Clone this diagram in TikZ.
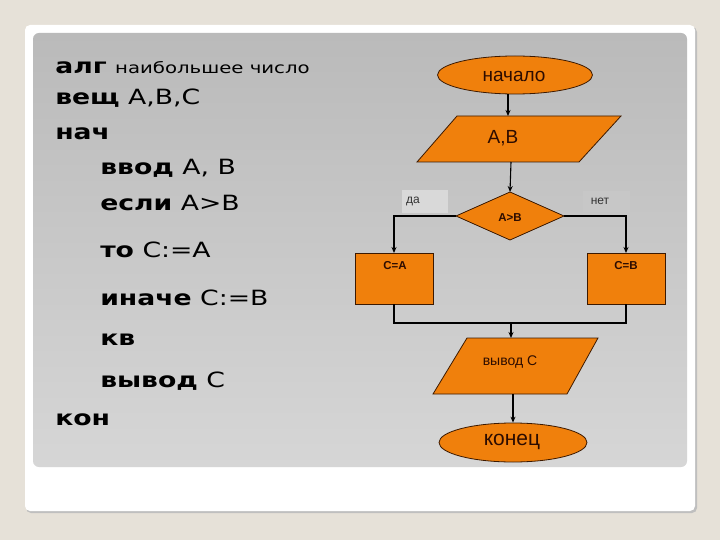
\documentclass[tikz,border=0pt]{standalone}
\usepackage{fontspec}
\setmainfont{DejaVu Sans}
\newfontfamily\arialf{Liberation Sans}
\usetikzlibrary{arrows.meta,calc,shapes.geometric}
\definecolor{bgbeige}{RGB}{230,225,216}
\definecolor{orangef}{RGB}{240,128,12}
\definecolor{edgec}{RGB}{60,25,0}
\definecolor{txtc}{RGB}{45,12,0}
\definecolor{paneltop}{RGB}{186,186,186}
\definecolor{panelbot}{RGB}{214,214,214}
\tikzset{
  x=1pt, y=-1pt,
  shapebox/.style={inner sep=0pt, outer sep=0pt},
  fillshape/.style={fill=orangef, draw=edgec, line width=0.8pt},
  conn/.style={draw=black, line width=1.1pt},
  arr/.style={conn, -{Stealth[length=6pt,width=5pt]}},
  ftxt/.style={text=txtc, font=\arialf, inner sep=0pt},
  code/.style={anchor=base west, inner sep=0pt, font=\fontsize{21}{25}\selectfont, xscale=1.27, transform shape},
  lbl/.style={font=\arialf\fontsize{12}{14}\selectfont, text=black!80, inner sep=0pt}
}
\begin{document}
\begin{tikzpicture}
\useasboundingbox (0,0) rectangle (720,540);
\fill[bgbeige] (0,0) rectangle (720,540);
% card
\fill[black!25, rounded corners=5pt] (26,27) rectangle (697,513);
\fill[white, rounded corners=5pt] (25,25) rectangle (695,511);
% panel
\shade[rounded corners=6pt, top color=paneltop, bottom color=panelbot] (33,33) rectangle (687,467);

% left code text
\node[code] at (55,74) {\textbf{алг} {\fontsize{15.5}{18}\selectfont наибольшее число}};
\node[code] at (55,105) {\textbf{вещ} A,B,C};
\node[code] at (55,140) {\textbf{нач}};
\node[code] at (100,175) {\textbf{ввод} A, B};
\node[code] at (100,211) {\textbf{если} A>B};
\node[code] at (100,257) {\textbf{то} C:=A};
\node[code] at (100,305) {\textbf{иначе} C:=B};
\node[code] at (100,345) {\textbf{кв}};
\node[code] at (100,387) {\textbf{вывод} C};
\node[code] at (55,425) {\textbf{кон}};

% flowchart
\coordinate (xa) at (508,0);
\coordinate (xb) at (511,0);
\coordinate (xc) at (513,0);

\node[ellipse, fillshape, minimum width=155pt, minimum height=38pt, inner sep=0pt] (start) at (515,75) {};
\node[ftxt, font=\arialf\fontsize{19}{22}\selectfont] at (514,76) {начало};

\node[shapebox, minimum width=204pt, minimum height=46pt] (inp) at (519,139) {};
\draw[fillshape] ([xshift=40pt]inp.north west) -- (inp.north east) -- ([xshift=-42pt]inp.south east) -- (inp.south west) -- cycle;
\node[ftxt, font=\arialf\fontsize{19}{22}\selectfont] at (503,138) {A,B};

\node[shapebox, minimum width=108pt, minimum height=48pt] (dec) at (510,216) {};
\draw[fillshape] (dec.north) -- (dec.east) -- (dec.south) -- (dec.west) -- cycle;
\node[ftxt, font=\arialf\bfseries\fontsize{11.5}{13}\selectfont] at (510,218) {A>B};

\fill[white!85!black] (402,190) rectangle (448,213);
\node[lbl] (da) at (413,201) {да};
\fill[black!22] (583,191) rectangle (630,212);
\node[lbl] (net) at (600,201) {нет};

\node[shapebox, fillshape, minimum width=78pt, minimum height=51pt] (ca) at (394,278.5) {};
\node[ftxt, font=\arialf\bfseries\fontsize{11.5}{13}\selectfont] at (395,266) {C=A};
\node[shapebox, fillshape, minimum width=78pt, minimum height=51pt] (cb) at (626,278.5) {};
\node[ftxt, font=\arialf\bfseries\fontsize{11.5}{13}\selectfont] at (626,266) {C=B};

\node[shapebox, minimum width=165pt, minimum height=56pt] (outp) at (515.5,366) {};
\draw[fillshape] ([xshift=34pt]outp.north west) -- (outp.north east) -- ([xshift=-31pt]outp.south east) -- (outp.south west) -- cycle;
\node[ftxt, font=\arialf\fontsize{14}{16}\selectfont] at (510,362) {вывод C};

\node[ellipse, fillshape, minimum width=148pt, minimum height=39pt, inner sep=0pt] (fin) at (513,442.5) {};
\node[ftxt, font=\arialf\fontsize{21}{24}\selectfont] at (512,442) {конец};

\coordinate (m) at (511,323);

% connectors
\draw[arr] (start.south -| xa) -- (inp.north -| xa);
\draw[arr] (inp.south -| xb) -- (dec.north);
\draw[arr] (dec.west) -| (ca.north);
\draw[arr] (dec.east) -| (cb.north);
\draw[conn] (ca.south) |- (m) -| (cb.south);
\draw[arr] (m) -- (outp.north -| m);
\draw[arr] (outp.south -| xc) -- (fin.north);
\end{tikzpicture}
\end{document}
